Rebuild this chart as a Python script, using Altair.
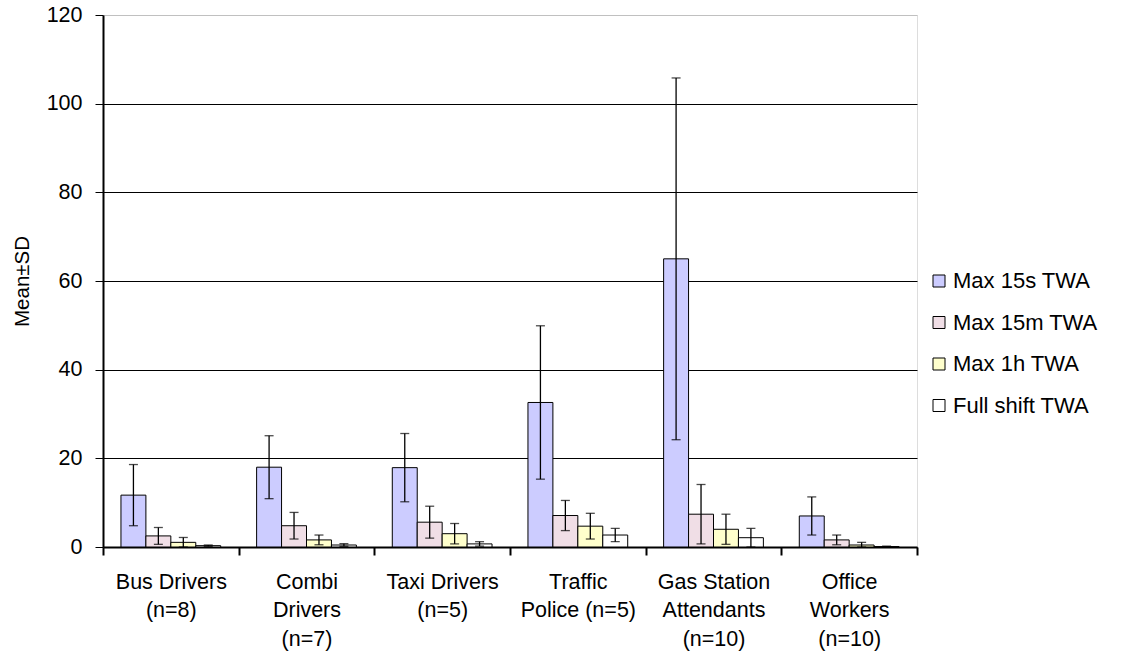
import altair as alt
import pandas as pd

categories = ["Bus Drivers|(n=8)", "Combi|Drivers|(n=7)", "Taxi Drivers|(n=5)",
              "Traffic|Police (n=5)", "Gas Station|Attendants|(n=10)", "Office|Workers|(n=10)"]
series = ["Max 15s TWA", "Max 15m TWA", "Max 1h TWA", "Full shift TWA"]
colors = ["#CCCCFF", "#F0DEE6", "#FFFFCC", "#FFFFFF"]

mean_15s = [11.7, 18.0, 17.9, 32.6, 65.0, 7.0]
sd_15s = [6.9, 7.1, 7.7, 17.3, 40.8, 4.3]
mean_15m = [2.5, 4.8, 5.6, 7.1, 7.4, 1.6]
sd_15m = [1.9, 3.0, 3.6, 3.4, 6.7, 1.1]
mean_1h = [1.05, 1.6, 3.0, 4.7, 4.0, 0.45]
sd_1h = [1.1, 1.1, 2.3, 2.9, 3.4, 0.6]
mean_full = [0.3, 0.45, 0.7, 2.7, 2.1, 0.1]
sd_full = [0.15, 0.3, 0.5, 1.5, 2.1, 0.1]

means = [mean_15s, mean_15m, mean_1h, mean_full]
sds = [sd_15s, sd_15m, sd_1h, sd_full]

rows = []
for s, m_list, sd_list in zip(series, means, sds):
    for c, m, sd in zip(categories, m_list, sd_list):
        rows.append({"category": c, "series": s, "mean": m,
                     "lo": max(m - sd, 0), "hi": m + sd})
df = pd.DataFrame(rows)

FONT = "Liberation Sans"

x_enc = alt.X("category:N", sort=categories, title=None,
              scale=alt.Scale(paddingInner=0, paddingOuter=0),
              axis=alt.Axis(labelAngle=0, labelExpr="split(datum.label, '|')",
                            labelFontSize=21.5, labelLineHeight=28.5, labelPadding=16,
                            labelColor="black", labelFont=FONT,
                            tickBand="extent", tickSize=8, tickColor="black",
                            tickWidth=2, domainColor="black", domainWidth=2,
                            labelBaseline="top"))
xoff_enc = alt.XOffset("series:N", sort=series,
                       scale=alt.Scale(paddingInner=0, paddingOuter=0.72))

y_scale = alt.Scale(domain=[0, 120], nice=False)

base = alt.Chart(df).encode(x=x_enc, xOffset=xoff_enc)

bars = base.mark_bar(stroke="black", strokeWidth=1).encode(
    y=alt.Y("mean:Q", scale=y_scale, title="Mean±SD",
            axis=alt.Axis(values=[0, 20, 40, 60, 80, 100, 120], grid=True,
                          gridColor=alt.condition("datum.value == 120",
                                                  alt.value("#C0C0C0"),
                                                  alt.value("black")),
                          gridWidth=1, domainColor="black", domainWidth=2,
                          tickColor="black", tickSize=8, tickWidth=1,
                          labelFontSize=21.5, labelFont=FONT, labelColor="black",
                          labelPadding=13, titleFontSize=20.5, titleFont=FONT,
                          titleFontWeight="normal", titleColor="black",
                          titlePadding=14)),
    color=alt.Color("series:N", sort=series,
                    scale=alt.Scale(domain=series, range=colors),
                    legend=alt.Legend(title=None, orient="none", legendX=825,
                                      legendY=255, symbolType="square",
                                      symbolSize=144, symbolStrokeColor="black",
                                      symbolStrokeWidth=1, labelFontSize=22,
                                      labelFont=FONT, labelColor="black",
                                      rowPadding=19.5, labelOffset=3))
)

rules = base.mark_rule(color="black", strokeWidth=1.3).encode(
    y=alt.Y("lo:Q", scale=y_scale), y2="hi:Q")
caps_hi = base.mark_tick(color="black", size=9, thickness=1.3).encode(
    y=alt.Y("hi:Q", scale=y_scale))
caps_lo = base.mark_tick(color="black", size=9, thickness=1.3).encode(
    y=alt.Y("lo:Q", scale=y_scale))

chart = alt.layer(bars, rules, caps_hi, caps_lo).properties(
    width=814, height=532,
    autosize=alt.AutoSizeParams(type="none"),
    padding={"left": 103, "top": 15, "right": 207, "bottom": 110},
).configure_view(stroke=None).configure(background="white")

chart.save("out.html", embed_options={"renderer": "svg", "actions": False})
